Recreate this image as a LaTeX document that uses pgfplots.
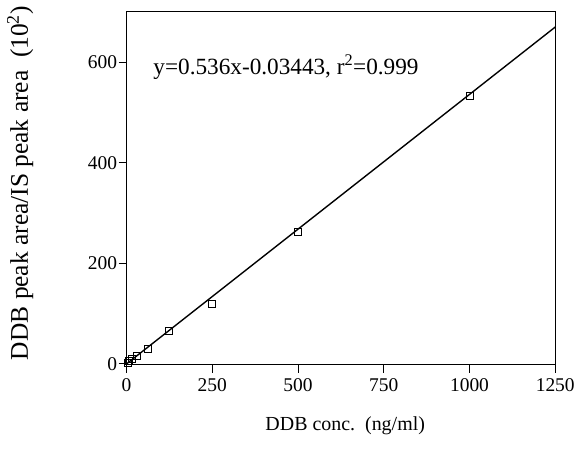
\documentclass[border=0pt]{standalone}
\usepackage{pgfplots}
\pgfplotsset{compat=1.18}
\usepackage{fontspec}
\setmainfont{Liberation Serif}
\begin{document}
\begin{tikzpicture}[x=1pt,y=1pt]
\begin{axis}[
  at={(0,0)}, anchor=south west,
  scale only axis, width=430pt, height=354pt,
  xmin=0, xmax=1250, ymin=-2, ymax=700,
  xtick={0,250,500,750,1000,1250},
  ytick={0,200,400,600},
  tick align=outside, xtick pos=bottom, ytick pos=left,
  major tick length=8pt,
  tick style={black, line width=1pt},
  axis line style={line width=1pt},
  /pgf/number format/assume math mode=true,
  /pgf/number format/set thousands separator={},
  tick label style={font=\fontsize{19.5}{22}\selectfont},
  xticklabel style={yshift=-2pt},
  yticklabel style={xshift=2pt},
  xlabel={DDB conc.\ \ (ng/ml)},
  ylabel={DDB peak area/IS peak area\hspace{0.5em}(10\textsuperscript{2})},
  xlabel style={font=\fontsize{20}{24}\selectfont, at={(axis description cs:0.51,0)}, anchor=center, yshift=-61pt},
  ylabel style={font=\fontsize{25.5}{28}\selectfont, at={(axis description cs:-0.248,0.515)}, anchor=center},
  clip=false,
]
\addplot[black, line width=1.4pt, no marks] coordinates {(0,-0.034) (1250,670)};
\addplot[only marks, mark=square, mark size=3.5pt, mark options={black, line width=1pt}] coordinates {
(3.9,2) (7.8,5) (15.6,9) (31.25,16) (62.5,30) (125,65) (250,120) (500,262) (1000,532)};
\node[anchor=west, font=\fontsize{23.3}{26}\selectfont] at (axis cs:68,590) {y=0.536x-0.03443, r\textsuperscript{2}=0.999};
\end{axis}
\useasboundingbox (-127,-98) rectangle (451,366);
\end{tikzpicture}
\end{document}
